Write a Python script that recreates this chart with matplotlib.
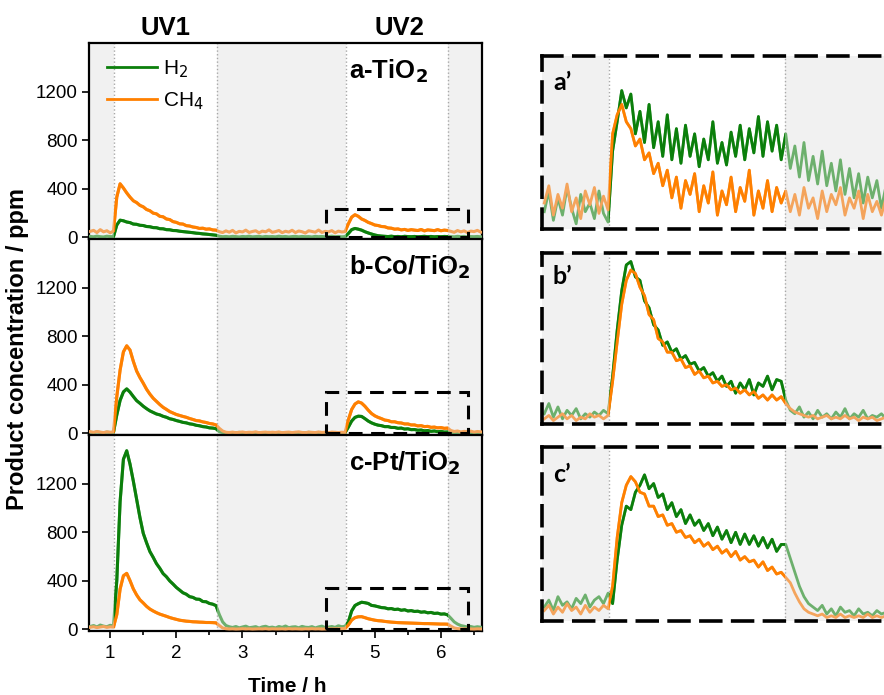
import numpy as np
import matplotlib
matplotlib.use("Agg")
import matplotlib.pyplot as plt
import matplotlib.transforms as mtransforms
from matplotlib.patches import Rectangle
from matplotlib.lines import Line2D

plt.rcParams['font.family'] = ['Liberation Sans', 'DejaVu Sans']

# sample times (h) of the traces
t_main = np.round(np.arange(119) * 0.05 + 0.70, 2)
t_zoom = np.round(np.arange(76) * 0.04 + 4.00, 2)

uv_windows = [(1.06, 2.62), (4.57, 6.11)]
zoom_box = {'a': (4.26, 6.41, 230), 'b': (4.26, 6.41, 340), 'c': (4.26, 6.41, 340)}
panel_names = ['a-TiO$_\\mathbf{2}$', 'b-Co/TiO$_\\mathbf{2}$', 'c-Pt/TiO$_\\mathbf{2}$']
zoom_names = ['a\u2019', 'b\u2019', 'c\u2019']
species = ['H$_2$', 'CH$_4$']
yticks = [0, 400, 800, 1200]
xticks = [1, 2, 3, 4, 5, 6]

# ppm, segments: before UV1 | UV1 | dark | UV2 | after
a_h2 = ([6, 3, 9, 4, 2, 8, 5, 4] +
        [100, 140, 135, 125, 120, 108, 106, 98, 96, 88, 86, 79, 78, 70, 69, 62,
         61, 55, 54, 49, 46, 43, 40, 37, 33, 31, 27, 25, 22, 19, 16] +
        [8, 4, 6, 3, 7, 5, 2, 6, 4, 8, 3, 5, 7, 2, 6, 4, 5, 3, 8, 4, 6, 2, 5, 7,
         3, 6, 4, 5, 2, 7, 4, 6, 3, 5, 8, 4, 6, 3, 5] +
        [30, 62, 72, 66, 58, 45, 35, 26, 18, 12, 9, 7, 5, 8, 4, 6, 3, 7, 5, 4,
         6, 3, 5, 7, 4, 6, 3, 5, 4, 6, 5] +
        [5, 3, 7, 4, 6, 2, 5, 4, 6, 3])
a_ch4 = ([48, 56, 38, 62, 44, 53, 36, 50] +
         [330, 440, 405, 365, 330, 300, 285, 262, 250, 228, 218, 198, 192, 172, 168,
          150, 145, 128, 122, 110, 108, 95, 92, 84, 80, 72, 74, 66, 68, 60, 58] +
         [45, 38, 52, 41, 56, 35, 48, 43, 58, 39, 47, 53, 36, 50, 44, 60, 40, 46,
          55, 37, 49, 42, 57, 38, 51, 45, 34, 53, 47, 41, 59, 39, 48, 44, 54, 36,
          50, 43, 46] +
         [110, 165, 185, 172, 150, 138, 122, 112, 100, 96, 88, 86, 76, 74, 66, 68,
          60, 64, 56, 62, 58, 55, 63, 52, 60, 57, 54, 62, 53, 58, 55] +
         [48, 40, 55, 44, 52, 38, 50, 46, 56, 42])
b_h2 = ([8, 4, 10, 6, 3, 9, 5, 7] +
        [150, 270, 340, 365, 338, 302, 268, 246, 222, 202, 184, 171, 158, 151, 139,
         131, 119, 113, 104, 97, 89, 85, 77, 73, 65, 61, 54, 51, 44, 42, 37] +
        [12, 5, 3, 6, 2, 4, 7, 3, 5, 2, 6, 4, 3, 5, 2, 7, 3, 4, 6, 2, 5, 3, 4, 6,
         2, 5, 3, 7, 4, 2, 6, 3, 5, 4, 2, 6, 3, 5, 4] +
        [50, 100, 130, 140, 138, 120, 100, 85, 74, 66, 62, 54, 54, 47, 47, 40, 42,
         34, 36, 29, 30, 24, 26, 19, 22, 15, 18, 12, 15, 9, 10] +
        [6, 3, 5, 2, 4, 6, 3, 5, 2, 4])
b_ch4 = ([12, 7, 14, 9, 5, 11, 8, 10] +
         [300, 520, 670, 720, 685, 592, 512, 458, 412, 362, 322, 288, 262, 236, 213,
          196, 178, 166, 154, 146, 138, 131, 121, 113, 104, 101, 93, 88, 80, 76, 68] +
         [40, 18, 8, 5, 9, 4, 7, 10, 5, 8, 6, 11, 4, 7, 9, 5, 8, 6, 10, 4, 7, 9,
          5, 8, 11, 6, 4, 9, 7, 5, 10, 6, 8, 4, 9, 7, 5, 8, 6] +
         [110, 195, 240, 258, 248, 222, 190, 162, 143, 130, 120, 108, 104, 94, 94,
          86, 84, 76, 76, 68, 68, 60, 62, 54, 56, 48, 50, 44, 46, 40, 42] +
         [22, 14, 18, 10, 15, 12, 17, 9, 14, 11])
c_h2 = ([22, 30, 18, 34, 25, 20, 32, 26] +
        [400, 1050, 1400, 1470, 1360, 1220, 1070, 920, 790, 712, 640, 592, 540, 502,
         458, 432, 398, 372, 344, 322, 300, 288, 268, 262, 248, 246, 228, 226, 212,
         206, 194] +
        [120, 60, 30, 20, 14, 22, 11, 18, 25, 12, 16, 21, 9, 19, 24, 13, 17, 10,
         22, 15, 26, 12, 18, 20, 11, 23, 16, 14, 21, 10, 19, 25, 13, 17, 22, 15,
         28, 20, 24] +
        [60, 150, 195, 210, 222, 218, 212, 196, 192, 185, 178, 176, 168, 170, 162,
         165, 156, 160, 150, 153, 146, 148, 140, 143, 135, 138, 130, 132, 124, 126,
         118] +
        [90, 60, 42, 30, 24, 18, 22, 15, 20, 16])
c_ch4 = ([16, 20, 13, 18, 22, 15, 19, 17] +
         [120, 330, 440, 460, 400, 332, 282, 242, 216, 188, 166, 150, 136, 124, 115,
          106, 96, 88, 81, 74, 70, 66, 64, 61, 60, 58, 57, 55, 55, 54, 52] +
         [30, 10, 4, 2, 3, 1, 2, 4, 2, 3, 1, 2, 3, 2, 4, 1, 3, 2, 2, 3, 1, 4, 2, 3,
          2, 1, 3, 2, 4, 2, 3, 1, 2, 3, 2, 4, 3, 5, 6] +
         [35, 75, 95, 102, 103, 95, 86, 80, 74, 70, 68, 64, 61, 58, 56, 54, 53, 52,
          51, 50, 49, 48, 47, 46, 46, 45, 44, 43, 42, 42, 41] +
         [25, 10, 5, 3, 2, 3, 2, 1, 3, 2])

# zoomed UV2 traces, relative height inside each dashed box (0..1)
a_zoom_h2 = [0.10, 0.22, 0.05, 0.18, 0.08, 0.24, 0.12, 0.03, 0.20, 0.10, 0.15, 0.06, 0.22, 0.09, 0.04,
             0.45, 0.62, 0.80, 0.70, 0.78, 0.55, 0.68, 0.50, 0.72, 0.47,
             0.62, 0.42, 0.66, 0.40, 0.58, 0.38, 0.60, 0.42, 0.55, 0.36,
             0.52, 0.40, 0.62, 0.38, 0.50, 0.37, 0.56, 0.42, 0.60, 0.40,
             0.58, 0.44, 0.65, 0.42, 0.62, 0.45, 0.60, 0.40, 0.55, 0.35,
             0.48, 0.30, 0.50, 0.28, 0.42, 0.26, 0.45, 0.25, 0.38, 0.22,
             0.40, 0.20, 0.35, 0.18, 0.32, 0.15, 0.30, 0.18, 0.28, 0.12, 0.25]
a_zoom_ch4 = [0.15, 0.25, 0.08, 0.20, 0.12, 0.26, 0.10, 0.18, 0.06, 0.22, 0.14, 0.24, 0.09, 0.19, 0.11,
              0.55, 0.66, 0.72, 0.62, 0.58, 0.48, 0.52, 0.40, 0.44, 0.32,
              0.38, 0.25, 0.34, 0.18, 0.30, 0.12, 0.28, 0.20, 0.32, 0.10,
              0.25, 0.15, 0.33, 0.08, 0.22, 0.14, 0.30, 0.10, 0.24, 0.16,
              0.34, 0.08, 0.22, 0.12, 0.28, 0.10, 0.24, 0.15, 0.22, 0.10,
              0.20, 0.08, 0.24, 0.12, 0.18, 0.06, 0.22, 0.10, 0.20, 0.14,
              0.24, 0.08, 0.18, 0.12, 0.22, 0.06, 0.20, 0.10, 0.16, 0.08, 0.18]
b_zoom_h2 = [0.06, 0.12, 0.04, 0.10, 0.03, 0.08, 0.05, 0.09, 0.03, 0.06, 0.04, 0.07, 0.05, 0.08, 0.06,
             0.28, 0.55, 0.78, 0.93, 0.95, 0.86, 0.84, 0.72, 0.68, 0.58,
             0.55, 0.46, 0.48, 0.42, 0.44, 0.38, 0.40, 0.35, 0.36, 0.31,
             0.33, 0.28, 0.30, 0.25, 0.28, 0.22, 0.25, 0.18, 0.24, 0.20,
             0.26, 0.17, 0.24, 0.22, 0.28, 0.20, 0.26, 0.25, 0.14, 0.08,
             0.06, 0.10, 0.04, 0.07, 0.03, 0.08, 0.04, 0.06, 0.03, 0.07,
             0.04, 0.09, 0.03, 0.06, 0.04, 0.08, 0.03, 0.05, 0.04, 0.06, 0.03]
b_zoom_ch4 = [0.03, 0.05, 0.02, 0.04, 0.06, 0.03, 0.05, 0.02, 0.04, 0.03, 0.06, 0.04, 0.05, 0.03, 0.05,
              0.25, 0.48, 0.70, 0.84, 0.90, 0.88, 0.80, 0.75, 0.64, 0.61,
              0.50, 0.48, 0.42, 0.42, 0.37, 0.38, 0.33, 0.34, 0.29, 0.31,
              0.27, 0.28, 0.24, 0.25, 0.22, 0.23, 0.20, 0.21, 0.18, 0.20,
              0.17, 0.19, 0.15, 0.17, 0.14, 0.17, 0.14, 0.16, 0.12, 0.09,
              0.07, 0.06, 0.05, 0.04, 0.05, 0.03, 0.04, 0.05, 0.03, 0.04,
              0.03, 0.05, 0.03, 0.04, 0.02, 0.04, 0.03, 0.04, 0.02, 0.03, 0.04]
c_zoom_h2 = [0.08, 0.12, 0.06, 0.14, 0.09, 0.11, 0.07, 0.13, 0.10, 0.15, 0.08, 0.12, 0.14, 0.10, 0.16,
             0.10, 0.35, 0.55, 0.66, 0.64, 0.74, 0.78, 0.84, 0.76, 0.79,
             0.71, 0.73, 0.64, 0.68, 0.60, 0.64, 0.56, 0.61, 0.55, 0.58,
             0.52, 0.56, 0.49, 0.54, 0.47, 0.52, 0.45, 0.51, 0.44, 0.50,
             0.44, 0.49, 0.43, 0.48, 0.42, 0.47, 0.40, 0.44, 0.44, 0.36,
             0.28, 0.20, 0.14, 0.10, 0.08, 0.06, 0.09, 0.04, 0.07, 0.03,
             0.08, 0.05, 0.06, 0.03, 0.07, 0.04, 0.05, 0.03, 0.06, 0.04, 0.05]
c_zoom_ch4 = [0.06, 0.09, 0.04, 0.08, 0.05, 0.10, 0.06, 0.08, 0.04, 0.09, 0.05, 0.08, 0.06, 0.09, 0.07,
              0.20, 0.48, 0.68, 0.78, 0.83, 0.80, 0.74, 0.73, 0.66, 0.66,
              0.60, 0.61, 0.55, 0.56, 0.51, 0.52, 0.48, 0.49, 0.45, 0.47,
              0.43, 0.45, 0.41, 0.43, 0.39, 0.41, 0.37, 0.40, 0.35, 0.37,
              0.34, 0.35, 0.31, 0.34, 0.29, 0.31, 0.27, 0.28, 0.25, 0.22,
              0.16, 0.11, 0.07, 0.05, 0.04, 0.03, 0.04, 0.02, 0.03, 0.02,
              0.04, 0.02, 0.03, 0.02, 0.03, 0.02, 0.04, 0.02, 0.03, 0.02, 0.03]

main_series = [(a_h2, a_ch4), (b_h2, b_ch4), (c_h2, c_ch4)]
zoom_series = [(a_zoom_h2, a_zoom_ch4), (b_zoom_h2, b_zoom_ch4), (c_zoom_h2, c_zoom_ch4)]

green, green_lt = '#0b7f0b', '#6db06d'
orange, orange_lt = '#ff8000', '#f4a45c'
shade = '#f1f1f1'


def draw_trace(ax, t, y, light, lw):
    ax.plot(t, y, color=light, lw=lw, zorder=3)


def draw_dark(ax, t, y, dark, lw):
    # same trace in the strong colour, only inside the UV windows
    trans = mtransforms.blended_transform_factory(ax.transData, ax.transAxes)
    for x0, x1 in uv_windows:
        ln, = ax.plot(t, y, color=dark, lw=lw, zorder=3)
        ln.set_clip_path(Rectangle((x0, 0), x1 - x0, 1, transform=trans))


def background(ax, x0, x1):
    ax.axvspan(x0, uv_windows[0][0], color=shade, lw=0, zorder=0)
    ax.axvspan(uv_windows[0][1], uv_windows[1][0], color=shade, lw=0, zorder=0)
    ax.axvspan(uv_windows[1][1], x1, color=shade, lw=0, zorder=0)
    for w in uv_windows:
        for xv in w:
            ax.axvline(xv, color='#a8a8a8', lw=1.0, ls=':', zorder=1)


W, H = 884, 695
fig = plt.figure(figsize=(W / 100, H / 100), dpi=100)

xlo, xhi = 0.68, 6.62
tops = [43, 239, 435]
axes = []
for k in range(3):
    ax = fig.add_axes([89 / W, 1 - (tops[k] + 196) / H, 393 / W, 196 / H])
    axes.append(ax)
    background(ax, xlo, xhi)
    h2, ch4 = main_series[k]
    draw_trace(ax, t_main, h2, green_lt, 2.2)
    draw_trace(ax, t_main, ch4, orange_lt, 2.2)
    draw_dark(ax, t_main, h2, green, 2.2)
    draw_dark(ax, t_main, ch4, orange, 2.2)
    bx0, bx1, btop = zoom_box['abc'[k]]
    ax.add_patch(Rectangle((bx0, 5), bx1 - bx0, btop - 5, fill=False, ec='black',
                           lw=2.2, ls=(0, (4.5, 2.8)), zorder=6))
    ax.set_xlim(xlo, xhi)
    ax.set_ylim(-15, 1600)
    ax.set_yticks(yticks)
    ax.tick_params(axis='y', direction='out', length=5, width=1.2, labelsize=13.5, pad=3)
    for s in ax.spines.values():
        s.set_linewidth(1.6)
    ax.text(0.662, 0.82, panel_names[k], transform=ax.transAxes, fontsize=18.5,
            fontweight='bold', va='baseline', ha='left', zorder=7)
    if k < 2:
        ax.tick_params(axis='x', bottom=False, labelbottom=False)
    else:
        ax.set_xticks(xticks)
        ax.set_xticks([1.5, 2.5, 3.5, 4.5, 5.5, 6.5], minor=True)
        ax.tick_params(axis='x', which='major', direction='out', length=5, width=1.2,
                       labelsize=13.5, pad=5)
        ax.tick_params(axis='x', which='minor', direction='out', length=3, width=1.2)

handles = [Line2D([], [], color=green, lw=2), Line2D([], [], color=orange, lw=2)]
axes[0].legend(handles, species, loc='upper left', bbox_to_anchor=(0.045, 0.92),
               frameon=False, fontsize=15, handlelength=2.4, handletextpad=0.3,
               borderpad=0, borderaxespad=0, labelspacing=0.5)

# zoomed insets on the right
zoom_boxes = [(56, 229), (253, 424), (447, 621)]
label_y = [83, 276, 474]
for k in range(3):
    top, bot = zoom_boxes[k]
    zx = fig.add_axes([542 / W, 1 - bot / H, 508 / W, (bot - top) / H])
    background(zx, 3.98, 8.44)
    h2, ch4 = zoom_series[k]
    draw_trace(zx, t_zoom, h2, green_lt, 2.0)
    draw_trace(zx, t_zoom, ch4, orange_lt, 2.0)
    draw_dark(zx, t_zoom, h2, green, 2.0)
    draw_dark(zx, t_zoom, ch4, orange, 2.0)
    zx.set_xlim(3.98, 8.44)
    zx.set_ylim(0, 1)
    zx.set_xticks([])
    zx.set_yticks([])
    zx.spines['right'].set_visible(False)
    for side in ['top', 'bottom', 'left']:
        zx.spines[side].set_linewidth(2.6)
        zx.spines[side].set_linestyle((0, (5.5, 3.3)))
        zx.spines[side].set_zorder(6)
    fig.text(553 / W, 1 - label_y[k] / H, zoom_names[k], fontsize=18, fontweight='bold',
             family=['Lato', 'DejaVu Sans'], va='center', ha='left')

fig.text(166 / W, 1 - 28 / H, 'UV1', fontsize=18.5, fontweight='bold', ha='center', va='center')
fig.text(399 / W, 1 - 28 / H, 'UV2', fontsize=18.5, fontweight='bold', ha='center', va='center')
fig.text(18 / W, 1 - 349 / H, 'Product concentration / ppm', fontsize=17, fontweight='bold',
         rotation=90, ha='center', va='center')
fig.text(287 / W, 1 - 687 / H, 'Time / h', fontsize=15, fontweight='bold', ha='center', va='center')

fig.savefig('out.png', dpi=100)
